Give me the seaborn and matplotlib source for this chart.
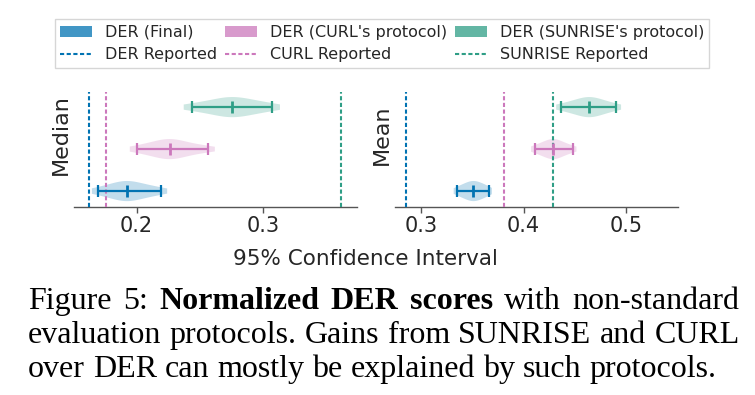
import numpy as np
import pandas as pd
import matplotlib
matplotlib.use("Agg")
import matplotlib.pyplot as plt
import seaborn as sns
from matplotlib.patches import Patch
from matplotlib.lines import Line2D

# ---------------- data ----------------
methods = ["DER (SUNRISE's protocol)", "DER (CURL's protocol)", "DER (Final)"]
colors = ["#2f9e86", "#cc78bc", "#0173b2"]
reported_labels = ["SUNRISE Reported", "CURL Reported", "DER Reported"]

median_lo = [0.2434, 0.2000, 0.1695]
median_mid = [0.2752, 0.2263, 0.1927]
median_hi = [0.3069, 0.2563, 0.2192]
median_reported = [0.3613, 0.1758, 0.1623]

mean_lo = [0.437, 0.411, 0.335]
mean_mid = [0.4637, 0.429, 0.351]
mean_hi = [0.490, 0.448, 0.366]
mean_reported = [0.4287, 0.3812, 0.285]

# hand-read spread of each violin (bootstrap distribution shape)
median_samples = [
    [0.2434, 0.256, 0.266, 0.272, 0.2752, 0.279, 0.286, 0.295, 0.3069],
    [0.2000, 0.211, 0.219, 0.224, 0.2263, 0.229, 0.235, 0.244, 0.2563],
    [0.1695, 0.179, 0.186, 0.190, 0.1927, 0.196, 0.202, 0.209, 0.2192],
]
mean_samples = [
    [0.437, 0.448, 0.455, 0.461, 0.4637, 0.467, 0.472, 0.479, 0.490],
    [0.411, 0.418, 0.423, 0.427, 0.429, 0.431, 0.435, 0.440, 0.448],
    [0.335, 0.341, 0.345, 0.349, 0.351, 0.353, 0.357, 0.361, 0.366],
]

median_ticks = [0.2, 0.3]
mean_ticks = [0.3, 0.4, 0.5]
median_xlim = (0.1505, 0.374)
mean_xlim = (0.2746, 0.5507)

caption_lines = [
    [("Figure", False), ("5:", False), ("Normalized", True), ("DER", True),
     ("scores", True), ("with", False), ("non-standard", False)],
    [(w, False) for w in "evaluation protocols. Gains from SUNRISE and CURL".split()],
    [(w, False) for w in "over DER can mostly be explained by such protocols.".split()],
]

# ---------------- style ----------------
sns.set_style("white")
plt.rcParams["font.family"] = ["DejaVu Sans"]
TXT = "#262626"

W, H = 755, 395
fig = plt.figure(figsize=(W / 100, H / 100), dpi=100)


def px_axes(x0, y0, x1, y1):
    return fig.add_axes([x0 / W, 1 - y1 / H, (x1 - x0) / W, (y1 - y0) / H])


ax1 = px_axes(74, 92, 357, 207)
ax2 = px_axes(395, 92, 678, 207)

panels = [
    (ax1, median_samples, median_lo, median_mid, median_hi, median_reported,
     median_ticks, median_xlim, "Median"),
    (ax2, mean_samples, mean_lo, mean_mid, mean_hi, mean_reported,
     mean_ticks, mean_xlim, "Mean"),
]

for ax, samples, lo, mid, hi, rep, ticks, xlim, ylab in panels:
    rows = []
    for m, vals in zip(methods, samples):
        for v in vals:
            rows.append({"method": m, "value": v})
    df = pd.DataFrame(rows)
    n_before = len(ax.collections)
    sns.violinplot(data=df, x="value", y="method", hue="method", order=methods,
                   hue_order=methods, palette=colors, ax=ax, inner=None,
                   linewidth=0, cut=0.5, width=0.48, density_norm="width",
                   saturation=1, legend=False, bw_adjust=1.0)
    for coll in ax.collections[n_before:]:
        coll.set_alpha(0.24)
        coll.set_edgecolor("none")

    for i, c in enumerate(colors):
        ax.errorbar([mid[i]], [i], xerr=[[mid[i] - lo[i]], [hi[i] - mid[i]]],
                    fmt="none", ecolor=c, elinewidth=1.6, capsize=4.5,
                    capthick=1.6, zorder=5)
        ax.plot([mid[i]], [i], marker="|", markersize=8, mew=2, color=c,
                zorder=6)
        ax.axvline(rep[i], color=c, lw=1.5, ls=(0, (2.0, 1.2)), zorder=4)

    ax.set_xlim(*xlim)
    ax.set_ylim(2.38, -0.36)
    ax.set_xticks(ticks)
    ax.set_xticklabels([f"{t:.1f}" for t in ticks])
    ax.set_yticks([])
    ax.set_xlabel("")
    ax.set_ylabel(ylab, fontsize=16, color=TXT)
    ax.yaxis.set_label_coords(-0.012, 0.63)
    ax.tick_params(axis="x", labelsize=15, colors="#555555", labelcolor=TXT,
                   length=4, width=1, pad=2.5, direction="out", bottom=True)
    for s in ["top", "right", "left"]:
        ax.spines[s].set_visible(False)
    ax.spines["bottom"].set_color("#555555")
    ax.spines["bottom"].set_linewidth(1.0)
    ax.set_facecolor("none")

fig.text(365 / W, 1 - 265 / H, "95% Confidence Interval", fontsize=15.5,
         color=TXT, ha="center", va="baseline")

# ---------------- legend ----------------
handles, labels = [], []
for m, r, c in zip(methods[::-1], reported_labels[::-1], colors[::-1]):
    handles.append(Patch(facecolor=c, alpha=0.75, edgecolor="none"))
    labels.append(m)
    handles.append(Line2D([0], [0], color=c, lw=1.5, ls=(0, (2.0, 1.2))))
    labels.append(r)

leg = fig.legend(handles, labels, ncol=3, loc="center",
                 bbox_to_anchor=(382 / W, 1 - 43.5 / H), fontsize=11.5,
                 frameon=True, fancybox=False, edgecolor="#cccccc",
                 handlelength=2.0, handletextpad=0.8, columnspacing=0.5,
                 labelspacing=0.45, borderpad=0.35)
for t in leg.get_texts():
    t.set_color(TXT)
leg.get_frame().set_linewidth(1.0)

# ---------------- caption (justified) ----------------
fig.canvas.draw()
renderer = fig.canvas.get_renderer()
CAP_SIZE = 23
x_left, x_right = 28, 739.5
baselines = [309, 343, 376.7]
for li, (words, yb) in enumerate(zip(caption_lines, baselines)):
    texts = []
    for w, bold in words:
        t = fig.text(0, 1 - yb / H, w, fontsize=CAP_SIZE,
                     family=["Liberation Serif", "DejaVu Serif"],
                     fontweight="bold" if bold else "normal",
                     color="black", ha="left", va="baseline")
        texts.append(t)
    widths = [t.get_window_extent(renderer).width for t in texts]
    if li < len(caption_lines) - 1:
        gap = (x_right - x_left - sum(widths)) / (len(texts) - 1)
    else:
        gap = CAP_SIZE * 100 / 72 * 0.25
    x = x_left
    for t, w in zip(texts, widths):
        t.set_x(x / W)
        x += w + gap

fig.savefig("out.png", dpi=100)
